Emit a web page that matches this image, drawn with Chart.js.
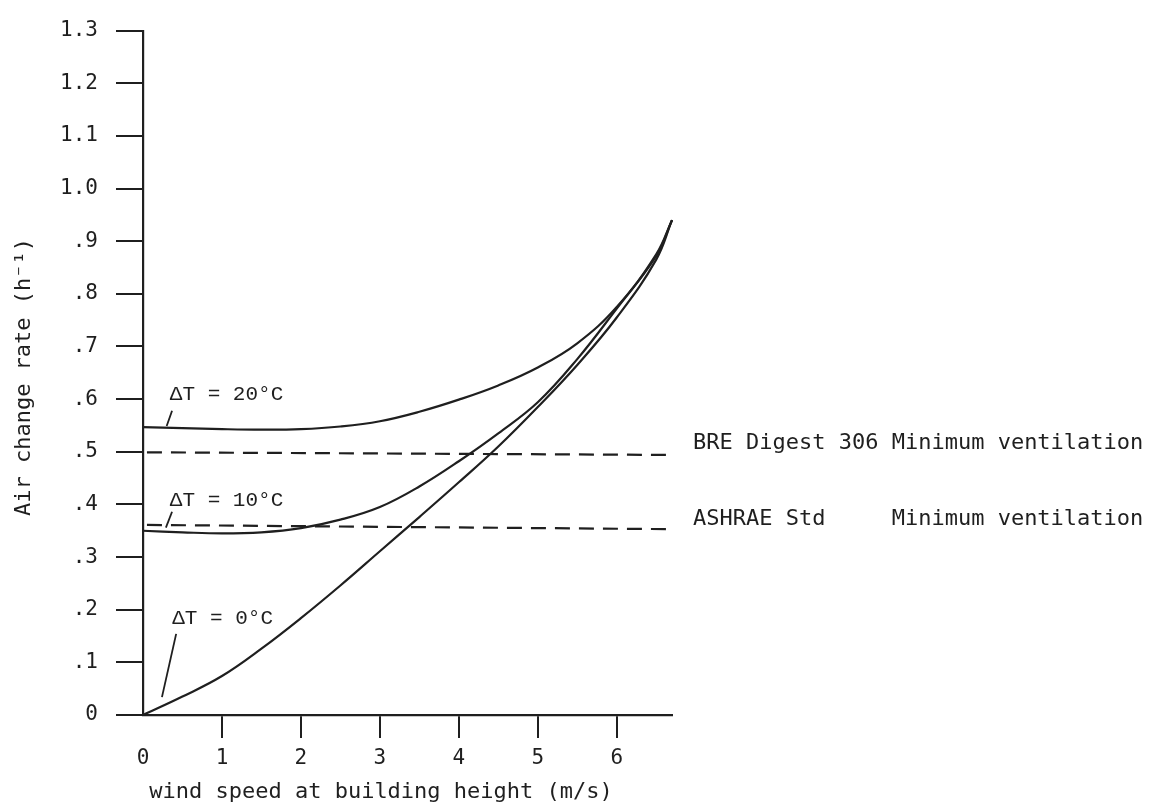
<!DOCTYPE html>
<html>
<head>
<meta charset="utf-8">
<script src="https://cdn.jsdelivr.net/npm/chart.js@4/dist/chart.umd.min.js"></script>
<style>
  body { margin: 0; background: #fff; }
  #wrap { width: 1151px; height: 808px; }
</style>
</head>
<body>
<div id="wrap"><canvas id="chart" width="1151" height="808"></canvas></div>
<script>
// values
const windSpeed = [0, 0.5, 1, 1.5, 2, 2.5, 3, 3.5, 4, 4.5, 5, 5.5, 6, 6.5, 6.7];
const dT20 = [0.547, 0.545, 0.543, 0.542, 0.543, 0.548, 0.558, 0.576, 0.599, 0.626, 0.66, 0.706, 0.775, 0.875, 0.94];
const dT10 = [0.35, 0.347, 0.345, 0.347, 0.355, 0.371, 0.395, 0.434, 0.482, 0.535, 0.594, 0.676, 0.772, 0.872, 0.94];
const dT0 = [0, 0.035, 0.074, 0.126, 0.184, 0.246, 0.311, 0.376, 0.442, 0.51, 0.585, 0.665, 0.755, 0.865, 0.94];

const minVentX = [0.05, 6.7];
const breY = [0.499, 0.494];
const ashraeY = [0.361, 0.353];

const xTicks = [0, 1, 2, 3, 4, 5, 6];
const yTicks = [0, 0.1, 0.2, 0.3, 0.4, 0.5, 0.6, 0.7, 0.8, 0.9, 1.0, 1.1, 1.2, 1.3];
const yLabels = ["0", ".1", ".2", ".3", ".4", ".5", ".6", ".7", ".8", ".9", "1.0", "1.1", "1.2", "1.3"];

const INK = "#1f1f1f";
const MONO = "'DejaVu Sans Mono', monospace";
const TYPE = "'Liberation Mono', monospace";

function pts(xs, ys) {
  return xs.map((x, i) => ({ x: x, y: ys[i] }));
}

const curve = (data) => ({
  data: data,
  borderColor: INK,
  borderWidth: 2.2,
  pointRadius: 0,
  tension: 0.4,
  clip: false,
});

const dashed = (data) => ({
  data: data,
  borderColor: INK,
  borderWidth: 2.2,
  borderDash: [15, 9],
  pointRadius: 0,
  clip: false,
});

// labels, leader lines and the two reference texts
const notes = {
  id: "notes",
  afterDatasetsDraw(chart) {
    const { ctx, scales, chartArea } = chart;
    const X = (v) => scales.x.getPixelForValue(v);
    const Y = (v) => scales.y.getPixelForValue(v);
    ctx.save();
    ctx.fillStyle = INK;
    ctx.strokeStyle = INK;
    ctx.lineWidth = 1.8;

    ctx.font = "21px " + TYPE;
    ctx.textBaseline = "middle";
    ctx.textAlign = "left";
    ctx.fillText("ΔT = 20°C", X(0.34), Y(0.608));
    ctx.fillText("ΔT = 10°C", X(0.34), Y(0.408));
    ctx.fillText("ΔT = 0°C", X(0.37), Y(0.184));

    const leaders = [
      [0.368, 0.578, 0.3, 0.549],
      [0.368, 0.386, 0.29, 0.356],
      [0.42, 0.154, 0.24, 0.034],
    ];
    leaders.forEach((l) => {
      ctx.beginPath();
      ctx.moveTo(X(l[0]), Y(l[1]));
      ctx.lineTo(X(l[2]), Y(l[3]));
      ctx.stroke();
    });

    ctx.font = "22px " + MONO;
    const tx = chartArea.right + 21;
    ctx.fillText("BRE Digest 306 Minimum ventilation", tx, Y(0.516));
    ctx.fillText("ASHRAE Std     Minimum ventilation", tx, Y(0.372));

    // axis titles
    ctx.textAlign = "center";
    ctx.fillText("wind speed at building height (m/s)", 381, 792);
    ctx.translate(24, 377);
    ctx.rotate(-Math.PI / 2);
    ctx.fillText("Air change rate (h⁻¹)", 0, 0);
    ctx.restore();
  },
};

new Chart(document.getElementById("chart"), {
  type: "line",
  data: {
    datasets: [
      curve(pts(windSpeed, dT20)),
      curve(pts(windSpeed, dT10)),
      curve(pts(windSpeed, dT0)),
      dashed(pts(minVentX, breY)),
      dashed(pts(minVentX, ashraeY)),
    ],
  },
  options: {
    responsive: false,
    animation: false,
    layout: { padding: { top: 24, right: 479, left: 0, bottom: 0 } },
    plugins: { legend: { display: false }, tooltip: { enabled: false } },
    scales: {
      x: {
        type: "linear",
        min: 0,
        max: 6.7,
        afterBuildTicks: (s) => { s.ticks = xTicks.map((v) => ({ value: v })); },
        afterFit: (s) => { s.height = 93; },
        border: { display: true, color: INK, width: 2.2 },
        grid: {
          drawOnChartArea: false,
          tickLength: 23,
          lineWidth: 2,
          color: (c) => (c.tick && c.tick.value === 0 ? "rgba(0,0,0,0)" : INK),
        },
        ticks: {
          padding: 8,
          color: INK,
          font: { family: MONO, size: 21 },
          maxRotation: 0,
        },
      },
      y: {
        min: 0,
        max: 1.3,
        afterBuildTicks: (s) => { s.ticks = yTicks.map((v) => ({ value: v })); },
        afterFit: (s) => { s.width = 143; },
        border: { display: true, color: INK, width: 2.2 },
        grid: { drawOnChartArea: false, tickLength: 27, lineWidth: 2, color: INK },
        ticks: {
          padding: 18,
          color: INK,
          font: { family: MONO, size: 21 },
          callback: (v, i) => yLabels[i],
        },
      },
    },
  },
  plugins: [notes],
});
</script>
</body>
</html>
